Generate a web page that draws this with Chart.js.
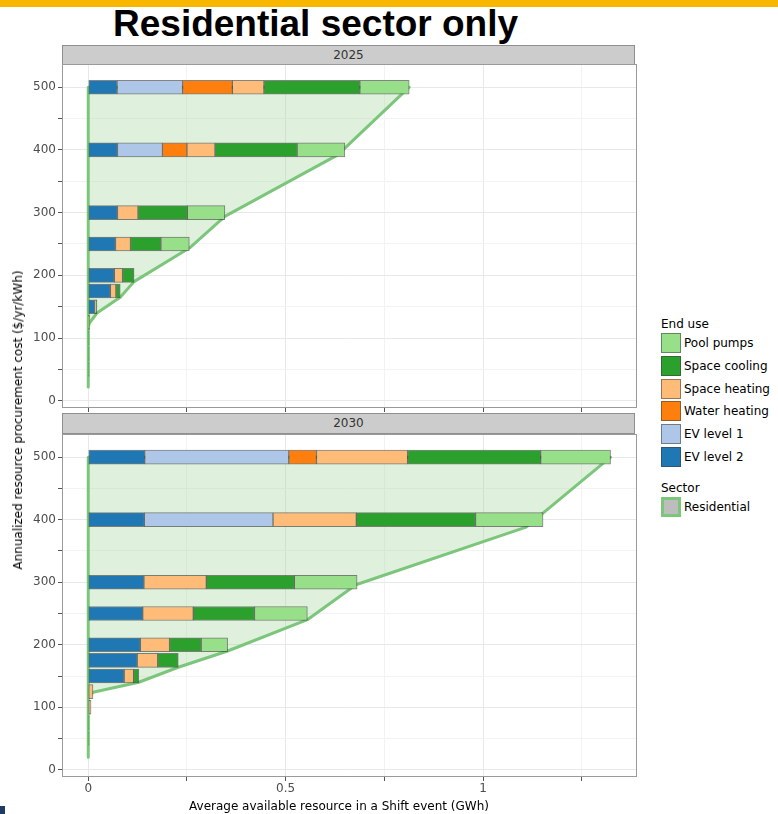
<!DOCTYPE html>
<html>
<head>
<meta charset="utf-8">
<script src="https://cdn.jsdelivr.net/npm/chart.js@4.4.1/dist/chart.umd.min.js"></script>
<style>
  html, body { margin: 0; padding: 0; background: #fff; }
  body { width: 778px; height: 814px; position: relative; overflow: hidden; font-family: "DejaVu Sans", sans-serif; }
  #topbar { position: absolute; left: 0; top: 0; width: 778px; height: 7px; background: #f8b600; }
  #title { position: absolute; left: 113px; top: 5px; font: bold 37px/37px "Liberation Sans", Arial, sans-serif; color: #000; white-space: nowrap; }
  .strip { position: absolute; left: 62px; width: 573px; background: #cccccc; border: 1px solid #8f8f8f; box-sizing: border-box;
           font-size: 12px; color: #333; text-align: center; }
  canvas { position: absolute; left: 0; }
  #ytitle { position: absolute; left: 18px; top: 420px; transform: translate(-50%, -50%) rotate(-90deg); font-size: 12px; color: #000; white-space: nowrap; }
  #xtitle { position: absolute; left: 339px; top: 799px; transform: translateX(-50%); font-size: 12px; color: #000; white-space: nowrap; line-height: 14px; }
  #legend { position: absolute; left: 660px; top: 316px; font-size: 12px; color: #000; }
  .ltitle { height: 16px; line-height: 16px; margin-left: 1px; }
  .litem { position: relative; height: 22.8px; }
  .lkey { position: absolute; left: 1px; top: 1px; width: 20px; height: 20px; box-sizing: border-box; border: 1px solid rgba(60,60,60,0.55); }
  .llab { position: absolute; left: 24px; top: 0; line-height: 22px; white-space: nowrap; }
  #corner { position: absolute; left: 0; top: 806px; width: 5px; height: 8px; background: #1d3b63; }
</style>
</head>
<body>
<div id="topbar"></div>
<div id="title">Residential sector only</div>

<div class="strip" style="top:45px;height:20px;line-height:18px;">2025</div>
<canvas id="c2025" width="637" height="348" style="top:64px"></canvas>

<div class="strip" style="top:413px;height:21px;line-height:19px;">2030</div>
<canvas id="c2030" width="637" height="380" style="top:434px"></canvas>

<div id="ytitle">Annualized resource procurement cost ($/yr/kWh)</div>
<div id="xtitle">Average available resource in a Shift event (GWh)</div>
<div id="legend"></div>
<div id="corner"></div>

<script>
// Price levels ($/yr/kWh) at which resource is offered
const priceLevels = [500, 400, 300, 250, 200, 175, 150, 125, 100, 75, 50];

// End uses, in stacking order from the left, and their fills
const endUses = ['EV level 2', 'EV level 1', 'Water heating', 'Space heating', 'Space cooling', 'Pool pumps'];
const endUseColors = ['#1f77b4', '#aec7e8', '#ff7f0e', '#ffbb78', '#2ca02c', '#98df8a'];

// 2025 available resource by end use (GWh), one value per price level
const ev2_2025   = [0.073, 0.074, 0.074, 0.069, 0.066, 0.056, 0.017, 0,     0,     0,     0];
const ev1_2025   = [0.166, 0.114, 0,     0,     0,     0,     0,     0,     0,     0,     0];
const water_2025 = [0.126, 0.062, 0,     0,     0,     0,     0,     0,     0,     0,     0];
const heat_2025  = [0.080, 0.071, 0.052, 0.038, 0.021, 0.014, 0.004, 0.001, 0,     0,     0];
const cool_2025  = [0.243, 0.208, 0.125, 0.077, 0.029, 0.011, 0.001, 0.002, 0.002, 0.002, 0.002];
const pool_2025  = [0.125, 0.121, 0.095, 0.072, 0,     0,     0,     0,     0,     0,     0];

// 2030 available resource by end use (GWh)
const ev2_2030   = [0.143, 0.142, 0.141, 0.138, 0.132, 0.124, 0.091, 0,     0,     0,     0];
const ev1_2030   = [0.365, 0.326, 0,     0,     0,     0,     0,     0,     0,     0,     0];
const water_2030 = [0.070, 0,     0,     0,     0,     0,     0,     0,     0,     0,     0];
const heat_2030  = [0.231, 0.211, 0.158, 0.128, 0.074, 0.052, 0.024, 0.012, 0.007, 0,     0];
const cool_2030  = [0.337, 0.302, 0.223, 0.155, 0.080, 0.052, 0.013, 0,     0,     0.002, 0.002];
const pool_2030  = [0.177, 0.171, 0.159, 0.134, 0.067, 0,     0,     0,     0,     0,     0];

// Residential supply envelope (outline of the shaded area)
const envelope2025X = [0,  0,   0.813, 0.632, 0.346, 0.257, 0.116, 0.081, 0.022, 0.003, 0,   0];
const envelope2025Y = [22, 500, 500,   392,   294,   244,   190,   165,   140,   124,   118, 22];
const envelope2030X = [0,  0,   1.323, 1.109, 0.678, 0.555, 0.353, 0.228, 0.128, 0.012, 0,   0];
const envelope2030Y = [20, 500, 500,   388,   296,   240,   190,   164,   140,   124,   115, 20];

// Axis ticks (blank label = minor tick)
const xTickValues = [0, 0.25, 0.5, 0.75, 1, 1.25];
const xTickLabels = ['0', '', '0.5', '', '1', ''];
const yTickValues = [0, 50, 100, 150, 200, 250, 300, 350, 400, 450, 500];
const yTickLabels = ['0', '', '100', '', '200', '', '300', '', '400', '', '500'];

const FONT = '"DejaVu Sans", sans-serif';
const GREEN_LINE = '#7cc67c';
const GREEN_FILL = 'rgba(160, 214, 156, 0.34)';
const BAR_BORDER = 'rgba(50, 50, 50, 0.6)';

function barDatasets(series) {
  const cumulative = priceLevels.map(() => 0);
  return series.map((values, k) => {
    const data = [];
    values.forEach((v, i) => {
      const start = cumulative[i];
      cumulative[i] = start + v;
      if (v > 0) data.push({ y: priceLevels[i], x: [start, start + v] });
    });
    return {
      type: 'bar',
      label: endUses[k],
      indexAxis: 'y',
      grouped: false,
      data,
      backgroundColor: endUseColors[k],
      borderColor: BAR_BORDER,
      borderWidth: 1,
      borderSkipped: false,
      barThickness: 14,
      order: 1
    };
  });
}

function envelopeDataset(xs, ys) {
  return {
    type: 'line',
    label: 'Residential',
    data: xs.map((x, i) => ({ x, y: ys[i] })),
    borderColor: GREEN_LINE,
    borderWidth: 3,
    backgroundColor: GREEN_FILL,
    fill: 'shape',
    pointRadius: 0,
    tension: 0,
    borderJoinStyle: 'round',
    borderCapStyle: 'round',
    order: 5
  };
}

const panelBorder = {
  id: 'panelBorder',
  afterDraw(chart) {
    const a = chart.chartArea, ctx = chart.ctx;
    ctx.save();
    ctx.strokeStyle = '#9a9a9a';
    ctx.lineWidth = 1;
    ctx.strokeRect(Math.round(a.left) + 0.5, Math.round(a.top) + 0.5, Math.round(a.right - a.left) - 1, Math.round(a.bottom - a.top) - 1);
    ctx.restore();
  }
};

function axisOptions(values, labels, min, max, showLabels, fitSize, isX) {
  return {
    type: 'linear',
    offset: false,
    beginAtZero: false,
    min, max,
    afterBuildTicks: s => { s.ticks = values.map(v => ({ value: v })); },
    grid: {
      offset: false,
      color: c => (c && c.index !== undefined && labels[c.index]) ? '#e8e8e8' : '#f3f3f3',
      lineWidth: 1,
      tickColor: '#555',
      tickLength: 4,
      drawTicks: true
    },
    border: { display: false },
    ticks: {
      display: showLabels,
      autoSkip: false,
      maxRotation: 0,
      padding: isX ? 1 : 2,
      color: '#4d4d4d',
      font: { family: FONT, size: 12 },
      callback: (v, i) => labels[i] || ''
    },
    afterFit: s => {
      if (isX) s.height = fitSize; else s.width = fitSize;
      s.paddingTop = 0; s.paddingBottom = 0; s.paddingLeft = 0; s.paddingRight = 0;
    }
  };
}

function makeChart(id, series, envX, envY, showXLabels) {
  const ctx = document.getElementById(id).getContext('2d');
  return new Chart(ctx, {
    type: 'scatter',
    data: { datasets: [...barDatasets(series), envelopeDataset(envX, envY)] },
    options: {
      responsive: false,
      animation: false,
      devicePixelRatio: 1,
      layout: { padding: 0 },
      plugins: { legend: { display: false }, tooltip: { enabled: false } },
      scales: {
        x: axisOptions(xTickValues, xTickLabels, -0.0665, 1.39, showXLabels, showXLabels ? 37 : 4, true),
        y: axisOptions(yTickValues, yTickLabels, -11.5, 537, true, 62, false)
      }
    },
    plugins: [panelBorder]
  });
}

// Legend: end uses listed top to bottom in reverse stacking order, then the sector key
const legend = document.getElementById('legend');
let html = '<div class="ltitle">End use</div>';
for (let k = endUses.length - 1; k >= 0; k--) {
  html += '<div class="litem"><div class="lkey" style="background:' + endUseColors[k] + '"></div>' +
          '<div class="llab">' + endUses[k] + '</div></div>';
}
html += '<div style="height:11px"></div><div class="ltitle">Sector</div>';
html += '<div class="litem"><div class="lkey" style="background:#bdbdbd;border:3px solid ' + GREEN_LINE + '"></div>' +
        '<div class="llab">Residential</div></div>';
legend.innerHTML = html;

makeChart('c2025', [ev2_2025, ev1_2025, water_2025, heat_2025, cool_2025, pool_2025], envelope2025X, envelope2025Y, false);
makeChart('c2030', [ev2_2030, ev1_2030, water_2030, heat_2030, cool_2030, pool_2030], envelope2030X, envelope2030Y, true);
</script>
</body>
</html>
